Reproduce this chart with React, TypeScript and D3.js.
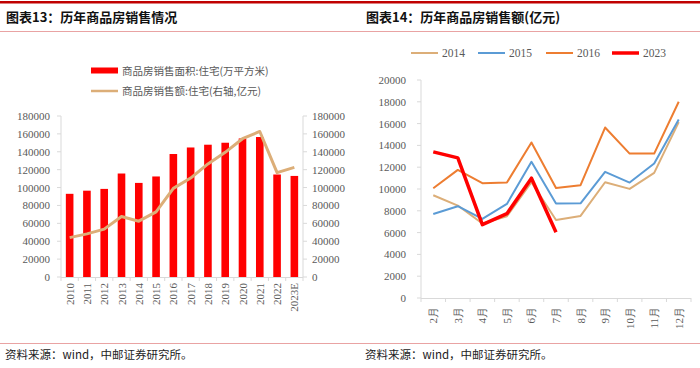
import React from "react";
import * as d3 from "d3";

const years = ["2010","2011","2012","2013","2014","2015","2016","2017","2018","2019","2020","2021","2022","2023E"];
const areaValues = [93000,96500,98500,115700,105200,112400,137500,144800,147900,150100,154900,156500,114600,113000];
const amountValues = [44000,48200,53500,67700,62400,72800,99100,110600,126400,139400,154600,162700,116700,122500];
const leftTicks = [0,20000,40000,60000,80000,100000,120000,140000,160000,180000];

const months = ["2月","3月","4月","5月","6月","7月","8月","9月","10月","11月","12月"];
const s2014 = [9430,8480,6830,7500,10620,7160,7530,10620,10010,11480,16130];
const s2015 = [7710,8420,7250,8630,12490,8660,8690,11570,10590,12340,16380];
const s2016 = [10070,11750,10530,10590,14270,10100,10350,15640,13250,13250,18000];
const s2023 = [13410,12860,6730,7740,10990,6030];
const rightTicks = [0,2000,4000,6000,8000,10000,12000,14000,16000,18000,20000];

const seriesNames = ["2014","2015","2016","2023"];
const seriesColors = ["#dcae78","#5b9bd5","#ed7d31","#ff0000"];
const seriesWidths = [2,2,2,3.5];

const serif = "'Liberation Serif', 'DejaVu Serif', serif";
const cjk = "'Noto Sans CJK SC', sans-serif";
const gray = "#595959";
const axisColor = "#d9d9d9";

export default function App() {
  // Left chart
  const lx = d3.scaleBand<string>().domain(years).range([61, 303]).paddingInner(0.56).paddingOuter(0.28);
  const lxOuter = d3.scaleBand<string>().domain(years).range([61, 303]);
  const ly = d3.scaleLinear().domain([0, 180000]).range([277, 116]);
  const amountLine = d3.line<number>().x((_, i) => (lxOuter(years[i]) as number) + lxOuter.bandwidth() / 2).y((d) => ly(d));

  // Right chart
  const rx = d3.scaleBand<string>().domain(months).range([421, 691]);
  const ry = d3.scaleLinear().domain([0, 20000]).range([298, 80]);
  const mLine = d3.line<number>().x((_, i) => (rx(months[i]) as number) + rx.bandwidth() / 2).y((d) => ry(d));
  const allSeries = [s2014, s2015, s2016, s2023];

  const legendX = [411, 478, 546, 612];

  return (
    <svg width={700} height={368} style={{ position: "absolute", left: 0, top: 0, background: "#fff" }}>
      {/* header lines */}
      <rect x={0} y={1} width={700} height={2.5} fill="#c00000" />
      <line x1={0} x2={700} y1={31.5} y2={31.5} stroke="#e9a3a3" strokeWidth={1} />
      <text x={6} y={22} fontFamily={cjk} fontWeight="bold" fontSize={13} fill="#111">图表13：历年商品房销售情况</text>
      <text x={366} y={22} fontFamily={cjk} fontWeight="bold" fontSize={13} fill="#111">图表14：历年商品房销售额(亿元)</text>

      {/* footer */}
      <line x1={0} x2={700} y1={343.5} y2={343.5} stroke="#e9a3a3" strokeWidth={1.2} />
      <text x={5} y={359} fontFamily={cjk} fontSize={11.5} fill="#222">资料来源：wind，中邮证券研究所。</text>
      <text x={365} y={359} fontFamily={cjk} fontSize={11.5} fill="#222">资料来源：wind，中邮证券研究所。</text>

      {/* Left legend */}
      <rect x={91} y={67.5} width={27} height={6} fill="#ff0000" />
      <text x={122} y={75} fontFamily={cjk} fontSize={10.5} fill={gray}>商品房销售面积:住宅(万平方米)</text>
      <line x1={91} x2={118} y1={91} y2={91} stroke="#dcae78" strokeWidth={2.5} />
      <text x={122} y={95} fontFamily={cjk} fontSize={10.5} fill={gray}>商品房销售额:住宅(右轴,亿元)</text>

      {/* Left axes */}
      <line x1={61} x2={61} y1={116} y2={277} stroke={axisColor} />
      <line x1={303} x2={303} y1={116} y2={277} stroke={axisColor} />
      <line x1={61} x2={303} y1={277.5} y2={277.5} stroke={axisColor} />
      {leftTicks.map((t) => (
        <g key={"lt" + t}>
          <line x1={57} x2={61} y1={ly(t)} y2={ly(t)} stroke={axisColor} />
          <line x1={303} x2={307} y1={ly(t)} y2={ly(t)} stroke={axisColor} />
          <text x={50} y={ly(t) + 4} textAnchor="end" fontFamily={serif} fontSize={11} fill={gray}>{t}</text>
          <text x={312} y={ly(t) + 4} textAnchor="start" fontFamily={serif} fontSize={11} fill={gray}>{t}</text>
        </g>
      ))}
      {years.map((y) => (
        <line key={"xt" + y} x1={lxOuter(y)} x2={lxOuter(y)} y1={277} y2={281} stroke={axisColor} />
      ))}
      <line x1={303} x2={303} y1={277} y2={281} stroke={axisColor} />
      {years.map((y) => {
        const cx = (lxOuter(y) as number) + lxOuter.bandwidth() / 2;
        return (
          <text key={"xl" + y} transform={`translate(${cx + 4},${283}) rotate(-90)`} textAnchor="end" fontFamily={serif} fontSize={11} fill={gray}>{y}</text>
        );
      })}
      {/* bars */}
      {areaValues.map((v, i) => (
        <rect key={"b" + i} x={lx(years[i])} y={ly(v)} width={lx.bandwidth()} height={277 - ly(v)} fill="#ff0000" />
      ))}
      <path d={amountLine(amountValues) as string} fill="none" stroke="#dcae78" strokeWidth={3} strokeLinejoin="round" />

      {/* Right legend */}
      {seriesNames.map((n, i) => (
        <g key={"lg" + n}>
          <line x1={legendX[i]} x2={legendX[i] + 27} y1={53} y2={53} stroke={seriesColors[i]} strokeWidth={i === 3 ? 3.5 : 2} />
          <text x={legendX[i] + 31} y={57} fontFamily={serif} fontSize={11.5} fill={gray}>{n}</text>
        </g>
      ))}

      {/* Right axes */}
      <line x1={421} x2={421} y1={80} y2={298} stroke={axisColor} />
      <line x1={421} x2={691} y1={298.5} y2={298.5} stroke={axisColor} />
      {rightTicks.map((t) => (
        <g key={"rt" + t}>
          <line x1={417} x2={421} y1={ry(t)} y2={ry(t)} stroke={axisColor} />
          <text x={406} y={ry(t) + 4} textAnchor="end" fontFamily={serif} fontSize={11} fill={gray}>{t}</text>
        </g>
      ))}
      {months.map((m) => (
        <line key={"mt" + m} x1={rx(m)} x2={rx(m)} y1={298} y2={302} stroke={axisColor} />
      ))}
      <line x1={691} x2={691} y1={298} y2={302} stroke={axisColor} />
      {months.map((m) => {
        const cx = (rx(m) as number) + rx.bandwidth() / 2;
        return (
          <text key={"ml" + m} transform={`translate(${cx + 4},${307}) rotate(-90)`} textAnchor="end" fontFamily={serif} fontSize={11} fill={gray}>{m}</text>
        );
      })}
      {allSeries.map((s, i) => (
        <path key={"s" + i} d={mLine(s) as string} fill="none" stroke={seriesColors[i]} strokeWidth={seriesWidths[i]} strokeLinejoin="round" />
      ))}
    </svg>
  );
}
